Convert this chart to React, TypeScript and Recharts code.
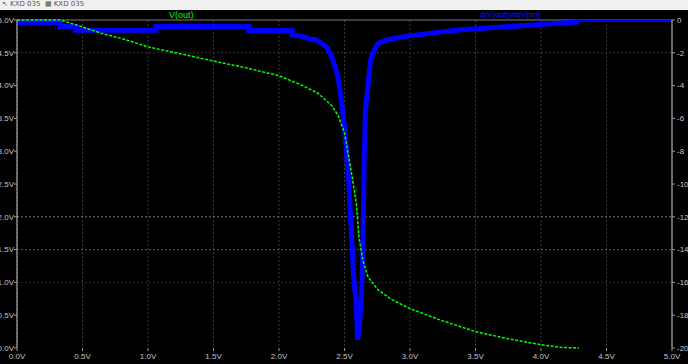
import { LineChart, Line, XAxis, YAxis, CartesianGrid, ReferenceLine } from "recharts";

// V(out) vs V(in), left axis (V)
const VOUT_X = [0, 0.33, 0.46, 0.64, 0.83, 1.0, 1.26, 1.51, 1.75, 2.0, 2.17, 2.3, 2.4, 2.45, 2.5, 2.55, 2.59, 2.61, 2.64, 2.68, 2.76, 2.86, 3.0, 3.24, 3.5, 3.75, 4.0, 4.15, 4.29];
const VOUT_Y = [5.0, 5.0, 4.92, 4.8, 4.7, 4.59, 4.48, 4.37, 4.27, 4.15, 4.01, 3.88, 3.7, 3.55, 3.28, 2.71, 2.21, 1.69, 1.34, 1.08, 0.88, 0.74, 0.6, 0.42, 0.25, 0.14, 0.05, 0.01, 0.0];

// d(V(out))/d(V(in)), right axis
const GAIN_X = [0, 0.33, 0.33, 0.45, 0.45, 1.06, 1.06, 1.77, 1.77, 2.1, 2.1, 2.18, 2.23, 2.28, 2.33, 2.37, 2.41, 2.45, 2.47, 2.5, 2.53, 2.55, 2.57, 2.59, 2.6, 2.615, 2.63, 2.64, 2.65, 2.66, 2.7, 2.73, 2.76, 2.83, 2.96, 3.16, 3.39, 3.77, 4.29];
const GAIN_Y = [-0.15, -0.15, -0.4, -0.4, -0.62, -0.62, -0.4, -0.4, -0.64, -0.64, -0.9, -1.0, -1.15, -1.2, -1.45, -1.7, -2.4, -3.5, -4.5, -6.5, -9.6, -12.6, -15.7, -17.3, -19.5, -18.5, -16.6, -14.2, -8.5, -5.5, -2.4, -1.8, -1.4, -1.2, -1.0, -0.8, -0.6, -0.4, -0.1];
// flat tail after the output hits 0V (drawn thin)
const GAIN_TAIL_X = [4.29, 5.0];
const GAIN_TAIL_Y = [-0.05, -0.05];

const X_TICKS = [0, 0.5, 1, 1.5, 2, 2.5, 3, 3.5, 4, 4.5, 5];
const LEFT_TICKS = [0, 0.5, 1, 1.5, 2, 2.5, 3, 3.5, 4, 4.5, 5];
const RIGHT_TICKS = [0, -2, -4, -6, -8, -10, -12, -14, -16, -18, -20];

const voutData = VOUT_X.map((x, i) => ({ x, y: VOUT_Y[i] }));
const gainData = GAIN_X.map((x, i) => ({ x, y: GAIN_Y[i] }));
const tailData = GAIN_TAIL_X.map((x, i) => ({ x, y: GAIN_TAIL_Y[i] }));

const tickStyle = { fill: "#c4c4c4", fontSize: 8, fontFamily: "Liberation Sans, Arial, sans-serif" };
const fmtV = (v: number) => v.toFixed(1) + "V";

export default function App() {
  return (
    <div style={{ position: "fixed", left: 0, top: 0, width: 688, height: 364, background: "#000", overflow: "hidden" }}>
      <div
        style={{
          height: 10,
          background: "#f0f0f0",
          overflow: "hidden",
          fontFamily: "DejaVu Sans, sans-serif",
          fontSize: 7,
          lineHeight: "8px",
          color: "#555",
          paddingLeft: 2,
          whiteSpace: "nowrap",
        }}
      >
        ↖ KXD 035 &nbsp;▦ KXD 035
      </div>
      <div
        style={{
          position: "absolute",
          top: 10,
          left: 169,
          fontFamily: "Liberation Sans, Arial, sans-serif",
          fontSize: 9,
          color: "#00ff00",
          lineHeight: "10px",
        }}
      >
        V(out)
      </div>
      <div
        style={{
          position: "absolute",
          top: 10,
          left: 480,
          fontFamily: "Liberation Sans, Arial, sans-serif",
          fontSize: 8,
          color: "#1010ff",
          lineHeight: "10px",
        }}
      >
        d(V(out))/d(V(in))
      </div>
      <LineChart width={688} height={354} margin={{ top: 10, right: 0, left: 0, bottom: 0 }}>
        <CartesianGrid horizontal={false} stroke="#3a3a3a" strokeDasharray="2 2" />
        <XAxis
          dataKey="x"
          type="number"
          domain={[0, 5]}
          ticks={X_TICKS}
          tickFormatter={fmtV}
          axisLine={false}
          tickLine={{ stroke: "#9a9a9a" }}
          tickSize={3}
          tickMargin={2}
          height={16}
          tick={tickStyle}
          interval={0}
        />
        <YAxis
          yAxisId="left"
          type="number"
          domain={[0, 5]}
          ticks={LEFT_TICKS}
          tickFormatter={fmtV}
          axisLine={{ stroke: "#c8c8c8" }}
          tickLine={{ stroke: "#9a9a9a" }}
          tickSize={3}
          tickMargin={0}
          width={17}
          tick={tickStyle}
          interval={0}
        />
        <YAxis
          yAxisId="right"
          orientation="right"
          type="number"
          domain={[-20, 0]}
          ticks={RIGHT_TICKS}
          axisLine={{ stroke: "#c8c8c8" }}
          tickLine={{ stroke: "#9a9a9a" }}
          tickSize={3}
          tickMargin={2}
          width={16}
          tick={tickStyle}
          interval={0}
        />
        <ReferenceLine yAxisId="left" y={4.5} stroke="#333" strokeDasharray="2 2" />
        <ReferenceLine yAxisId="left" y={2} stroke="#7a7a7a" strokeDasharray="2 2" />
        <ReferenceLine yAxisId="left" y={1.5} stroke="#555" strokeDasharray="2 2" />
        <ReferenceLine yAxisId="left" y={1} stroke="#2c2c2c" strokeDasharray="2 2" />
        <ReferenceLine yAxisId="left" y={5} stroke="#7a7a7a" />
        <Line
          yAxisId="right"
          data={gainData}
          dataKey="y"
          type="linear"
          stroke="#0000ff"
          strokeWidth={5}
          dot={false}
          isAnimationActive={false}
        />
        <Line
          yAxisId="right"
          data={tailData}
          dataKey="y"
          type="linear"
          stroke="#0000ff"
          strokeWidth={2}
          dot={false}
          isAnimationActive={false}
        />
        <Line
          yAxisId="left"
          data={voutData}
          dataKey="y"
          type="linear"
          stroke="#00ff00"
          strokeWidth={1.5}
          strokeDasharray="3 1.5"
          dot={false}
          isAnimationActive={false}
        />
      </LineChart>
    </div>
  );
}
